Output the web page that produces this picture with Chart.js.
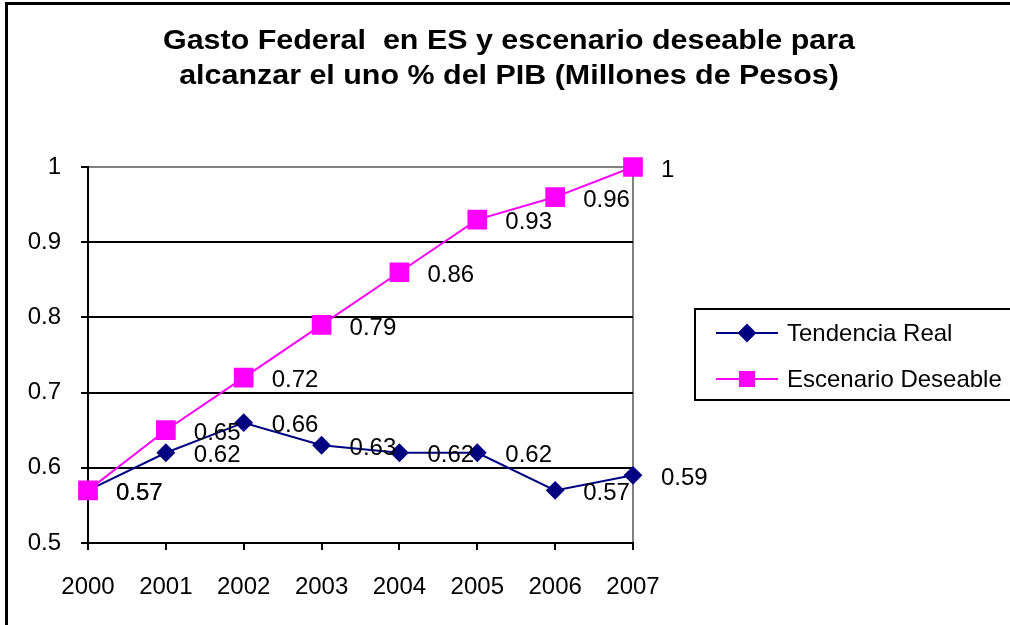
<!DOCTYPE html>
<html>
<head>
<meta charset="utf-8">
<script src="https://cdn.jsdelivr.net/npm/chart.js@4/dist/chart.umd.min.js"></script>
<style>
  html, body { margin: 0; padding: 0; background: #fff; }
  #wrap { position: relative; width: 1010px; height: 625px; overflow: hidden; }
  #frame { position: absolute; left: 5px; top: 2px; width: 1100px; height: 700px; border-left: 3px solid #000; border-top: 3px solid #000; }
  canvas { position: absolute; left: 0; top: 0; }
</style>
</head>
<body>
<div id="wrap">
  <div id="frame"></div>
  <canvas id="chart" width="1010" height="625"></canvas>
</div>
<script>
const years = ['2000', '2001', '2002', '2003', '2004', '2005', '2006', '2007'];
const tendenciaReal = [0.57, 0.62, 0.66, 0.63, 0.62, 0.62, 0.57, 0.59];
const escenarioDeseable = [0.57, 0.65, 0.72, 0.79, 0.86, 0.93, 0.96, 1];
const seriesNames = ['Tendencia Real', 'Escenario Deseable'];
const titleLines = ['Gasto Federal  en ES y escenario deseable para', 'alcanzar el uno % del PIB (Millones de Pesos)'];

const FONT = "'Liberation Sans', Arial, sans-serif";

// title centred on the whole page (the built-in one centres on the padded box)
const pageTitle = {
  id: 'pageTitle',
  afterDraw(chart) {
    const ctx = chart.ctx;
    ctx.save();
    ctx.font = 'bold 27px ' + FONT;
    ctx.fillStyle = '#000';
    ctx.textAlign = 'center';
    ctx.textBaseline = 'middle';
    const w = ctx.measureText(titleLines[0]).width;
    const sx = 692 / w;
    ctx.translate(509, 0);
    ctx.scale(sx, 1);
    ctx.fillText(titleLines[0], 0, 42);
    ctx.fillText(titleLines[1], 0, 77);
    ctx.restore();
  }
};

// value labels to the right of each point
const pointLabels = {
  id: 'pointLabels',
  afterDatasetsDraw(chart) {
    const ctx = chart.ctx;
    ctx.save();
    ctx.font = '24px ' + FONT;
    ctx.fillStyle = '#000';
    ctx.textAlign = 'left';
    ctx.textBaseline = 'middle';
    chart.data.datasets.forEach((ds, di) => {
      const meta = chart.getDatasetMeta(di);
      meta.data.forEach((pt, i) => {
        ctx.fillText(String(ds.data[i]), pt.x + 28, pt.y + 3);
      });
    });
    ctx.restore();
  }
};

// boxed legend on the right, like the spreadsheet one
const boxLegend = {
  id: 'boxLegend',
  afterDraw(chart) {
    const ctx = chart.ctx;
    ctx.save();
    ctx.strokeStyle = '#000';
    ctx.lineWidth = 2;
    ctx.strokeRect(695, 309, 340, 91);
    ctx.font = '24px ' + FONT;
    ctx.textBaseline = 'middle';
    ctx.textAlign = 'left';
    [0, 1].forEach((di, r) => {
      const ds = chart.data.datasets[di];
      const y = 333 + r * 46;
      ctx.strokeStyle = ds.borderColor;
      ctx.lineWidth = 2;
      ctx.beginPath();
      ctx.moveTo(716, y);
      ctx.lineTo(778, y);
      ctx.stroke();
      Chart.helpers.drawPoint(ctx, {
        pointStyle: ds.pointStyle,
        radius: ds.pointStyle === 'rect' ? 10 : 8,
        borderWidth: 1
      }, 747, y);
      ctx.fillStyle = ds.pointBackgroundColor;
      ctx.fill();
      ctx.fillStyle = '#000';
      ctx.fillText(ds.label, 787, y + 1);
    });
    ctx.restore();
  }
};

new Chart(document.getElementById('chart'), {
  type: 'line',
  data: {
    labels: years,
    datasets: [
      {
        label: seriesNames[0],
        data: tendenciaReal,
        borderColor: '#000080',
        backgroundColor: '#000080',
        pointBackgroundColor: '#000080',
        pointBorderColor: '#000080',
        pointStyle: 'rectRot',
        pointRadius: 8,
        borderWidth: 2,
        tension: 0,
        clip: false,
        order: 2
      },
      {
        label: seriesNames[1],
        data: escenarioDeseable,
        borderColor: '#ff00ff',
        backgroundColor: '#ff00ff',
        pointBackgroundColor: '#ff00ff',
        pointBorderColor: '#ff00ff',
        pointStyle: 'rect',
        pointRadius: 12.5,
        borderWidth: 2,
        tension: 0,
        clip: false,
        order: 1
      }
    ]
  },
  options: {
    responsive: false,
    animation: false,
    layout: { padding: { left: 0, right: 377, top: 167, bottom: 0 } },
    plugins: {
      legend: { display: false },
      tooltip: { enabled: false },
      title: { display: false }
    },
    scales: {
      x: {
        offset: false,
        border: { display: true, color: '#000', width: 2 },
        grid: {
          drawOnChartArea: true,
          drawTicks: true,
          tickLength: 7,
          lineWidth: 2,
          color: c => c.index === years.length - 1 ? '#808080' : 'rgba(0,0,0,0)',
          tickColor: '#000'
        },
        ticks: { color: '#000', font: { family: FONT, size: 24 }, padding: 23, maxRotation: 0 },
        afterFit: s => { s.height = 82; }
      },
      y: {
        min: 0.5,
        max: 1,
        border: { display: true, color: '#000', width: 2 },
        grid: {
          tickLength: 7,
          lineWidth: 2,
          color: c => c.tick && c.tick.value === 1 ? '#808080' : '#000',
          tickColor: '#000'
        },
        ticks: {
          stepSize: 0.1,
          color: '#000',
          font: { family: FONT, size: 24 },
          padding: 20,
          callback: v => String(+v.toFixed(1))
        },
        afterFit: s => { s.width = 88; }
      }
    }
  },
  plugins: [pointLabels, boxLegend, pageTitle]
});
</script>
</body>
</html>
